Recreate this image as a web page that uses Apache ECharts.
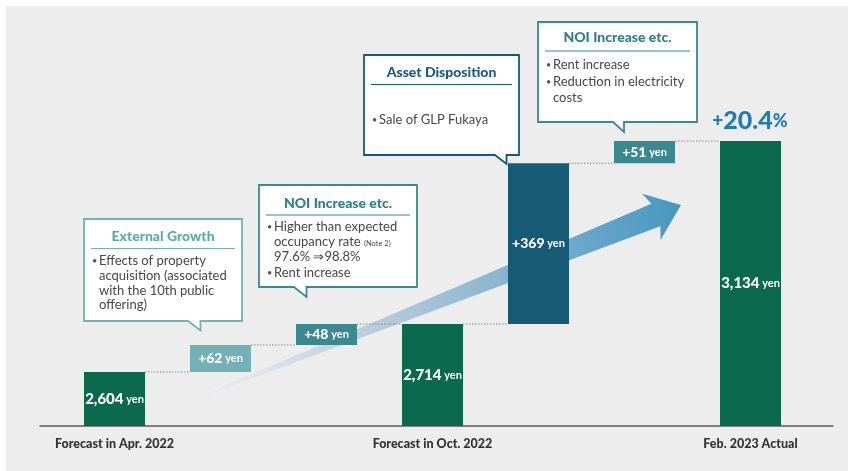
<!DOCTYPE html>
<html>
<head>
<meta charset="utf-8">
<script src="https://cdn.jsdelivr.net/npm/echarts@6/dist/echarts.min.js"></script>
<style>html,body{margin:0;padding:0;background:#fff}#c{width:848px;height:471px}</style>
</head>
<body>
<div id="c"></div>
<script>
// ---- data ----
const categories = ['Forecast in Apr. 2022', '', '', 'Forecast in Oct. 2022', '', '', 'Feb. 2023 Actual'];
const amounts = [2604, 62, 48, 2714, 369, 51, 3134];
const kinds = ['total', 'delta', 'delta', 'total', 'delta', 'delta', 'total'];
const unitLabel = 'yen';
const calloutTitles = ['External Growth', 'NOI Increase etc.', 'Asset Disposition', 'NOI Increase etc.'];
const calloutLines = [
  ['• Effects of property', 'acquisition (associated', 'with the 10th public', 'offering)'],
  ['• Higher than expected', 'occupancy rate {s|(Note 2)}', '97.6% ⇒98.8%', '• Rent increase'],
  ['• Sale of GLP Fukaya'],
  ['• Rent increase', '• Reduction in electricity', 'costs']
];

// ---- styles ----
const FONT = 'Lato, "Open Sans", sans-serif';
const barColors = ['#0b6a4e', '#73b0b7', '#3b8990', '#0b6a4e', '#175a76', '#3b8990', '#0b6a4e'];
const BAR_RATIO = 0.5755;

// ---- derived waterfall ranges ----
const ranges = [];
let run = 0;
amounts.forEach((v, i) => {
  if (kinds[i] === 'total') { ranges.push([i, 0, v]); run = v; }
  else { ranges.push([i, run, run + v]); run += v; }
});
const levels = ranges.slice(0, -1).map(r => [r[0], r[2]]);
const growth = ((amounts[6] - amounts[0]) / amounts[0] * 100).toFixed(1);

// ---- callout layouts ----
const calloutLayout = [
  {x0: 84, y0: 219, x1: 242, y1: 321, tl: 188, tr: 200.5, ty: 330.5, border: '#73b0b7', tc: '#5ea9ae', titleY: 236, sepY: 248.5, lineY: [261, 276, 290.5, 305]},
  {x0: 259, y0: 185, x1: 417, y1: 287, tl: 294, tr: 306.5, ty: 297, border: '#3b8990', tc: '#2e8088', titleY: 203.5, sepY: 215, lineY: [227, 242, 257, 273]},
  {x0: 364, y0: 55, x1: 519, y1: 155, tl: 495, tr: 506.5, ty: 164, border: '#175a76', tc: '#1b5a78', titleY: 72, sepY: 84.5, lineY: [120]},
  {x0: 538, y0: 22, x1: 697, y1: 122, tl: 613, tr: 624, ty: 132, border: '#3b8990', tc: '#2e8088', titleY: 37, sepY: 51, lineY: [65, 82, 98]}
];

function buildCallout(k) {
  const L = calloutLayout[k];
  const els = [];
  els.push({type: 'polygon', z: 10,
    shape: {points: [[L.x0, L.y0], [L.x1, L.y0], [L.x1, L.y1], [L.tr, L.y1], [L.tr, L.ty], [L.tl, L.y1], [L.x0, L.y1]]},
    style: {fill: '#fff', stroke: L.border, lineWidth: 1.8}});
  els.push({type: 'text', z: 11, style: {text: calloutTitles[k], x: (L.x0 + L.x1) / 2, y: L.titleY,
    font: '900 14px ' + FONT, fill: L.tc, align: 'center', verticalAlign: 'middle', textAlign: 'center', textVerticalAlign: 'middle'}});
  els.push({type: 'line', z: 11, shape: {x1: L.x0 + 7, y1: L.sepY, x2: L.x1 - 7, y2: L.sepY}, style: {stroke: L.border, lineWidth: 1.2}});
  calloutLines[k].forEach((ln, j) => {
    const isBullet = ln.startsWith('•');
    const txt = isBullet ? ln.slice(1).trim() : ln;
    if (isBullet) {
      els.push({type: 'text', z: 11, style: {text: '•', x: L.x0 + 8, y: L.lineY[j], font: '9px ' + FONT, fill: '#555',
        align: 'left', verticalAlign: 'middle', textAlign: 'left', textVerticalAlign: 'middle'}});
    }
    els.push({type: 'text', z: 11, style: {text: txt, x: L.x0 + 15, y: L.lineY[j], font: '13px ' + FONT, fill: '#474747',
      align: 'left', verticalAlign: 'middle', textAlign: 'left', textVerticalAlign: 'middle',
      rich: {s: {fontSize: 7.5, fontFamily: FONT, fill: '#474747', color: '#474747', verticalAlign: 'bottom', padding: [0, 0, 1, 0]}}}});
  });
  return els;
}

// ---- arrow geometry (decoration) ----
function buildArrow() {
  const T = [190, 401], P = [681, 205];
  const dx = P[0] - T[0], dy = P[1] - T[1], len = Math.hypot(dx, dy);
  const u = [dx / len, dy / len], n = [-u[1], u[0]];
  const pt = (d, w) => [P[0] - d * u[0] + w * n[0], P[1] - d * u[1] + w * n[1]];
  const pts = [pt(0, 0), pt(32, 25), pt(27, 12), pt(len, 0.6), pt(len, -0.6), pt(27, -12), pt(32, -25)];
  return {type: 'polygon', z: 1, shape: {points: pts},
    style: {fill: new echarts.graphic.LinearGradient(T[0], T[1], P[0], P[1], [
      {offset: 0, color: 'rgba(220,227,235,0)'},
      {offset: 0.15, color: '#dce3eb'},
      {offset: 0.42, color: '#b2c8d9'},
      {offset: 0.76, color: '#70aacb'},
      {offset: 1, color: '#4797c0'}
    ], true)}};
}

const chart = echarts.init(document.getElementById('c'));
const graphics = [
  {type: 'rect', z: 0, shape: {x: 6, y: 6, width: 842, height: 465}, style: {fill: '#ededed'}},
  buildArrow(),
  {type: 'text', z: 11, style: {text: '{p|+}{n|' + growth + '}{s|%}', x: 750, y: 121,
    align: 'center', verticalAlign: 'middle', textAlign: 'center', textVerticalAlign: 'middle',
    rich: {
      p: {fontSize: 19, fontWeight: 900, fontFamily: FONT, fill: '#1e7db0', color: '#1e7db0'},
      n: {fontSize: 25, fontWeight: 900, fontFamily: FONT, fill: '#1e7db0', color: '#1e7db0'},
      s: {fontSize: 18, fontWeight: 900, fontFamily: FONT, fill: '#1e7db0', color: '#1e7db0'}
    }}}
];
for (let k = 0; k < calloutTitles.length; k++) graphics.push(...buildCallout(k));

chart.setOption({
  backgroundColor: '#ffffff',
  animation: false,
  graphic: {elements: graphics},
  grid: [
    {left: 61.5, right: 44.5, top: 60, bottom: 45},
    {left: 40, right: 15, top: 60, bottom: 45}
  ],
  xAxis: [
    {type: 'category', gridIndex: 0, data: categories,
      axisLine: {show: false}, axisTick: {show: false}, splitLine: {show: false},
      axisLabel: {interval: 0, margin: 11, fontFamily: FONT, fontWeight: 900, fontSize: 12.5, color: '#333'}},
    {type: 'value', gridIndex: 1, min: 0, max: 1,
      axisLine: {show: true, onZero: false, lineStyle: {color: '#5c5c5c', width: 1.5}},
      axisTick: {show: false}, axisLabel: {show: false}, splitLine: {show: false}}
  ],
  yAxis: [
    {type: 'value', gridIndex: 0, min: 2480, max: 3320, show: false, splitLine: {show: false}},
    {type: 'value', gridIndex: 1, min: 0, max: 1, show: false, splitLine: {show: false}}
  ],
  series: [
    {
      type: 'custom', name: 'connectors', xAxisIndex: 0, yAxisIndex: 0, z: 3,
      data: levels,
      renderItem: function (params, api) {
        const i = api.value(0), lv = api.value(1);
        const bw = api.size([1, 0])[0] * BAR_RATIO;
        const p1 = api.coord([i, lv]), p2 = api.coord([i + 1, lv]);
        return {type: 'line', shape: {x1: p1[0] + bw / 2, y1: p1[1], x2: p2[0] - bw / 2, y2: p2[1]},
          style: {stroke: '#8c8c8c', lineWidth: 1, lineDash: [1.5, 1.5]}};
      }
    },
    {
      type: 'custom', name: 'bars', xAxisIndex: 0, yAxisIndex: 0, z: 4,
      encode: {x: 0, y: [1, 2]},
      data: ranges,
      renderItem: function (params, api) {
        const i = api.value(0), lo = api.value(1), hi = api.value(2);
        const bw = api.size([1, 0])[0] * BAR_RATIO;
        const pLo = api.coord([i, lo]), pHi = api.coord([i, hi]);
        const cs = params.coordSys;
        const rect = echarts.graphic.clipRectByRect(
          {x: pLo[0] - bw / 2, y: pHi[1], width: bw, height: pLo[1] - pHi[1]},
          {x: cs.x, y: cs.y, width: cs.width, height: cs.height});
        if (!rect) return;
        const isTotal = kinds[i] === 'total';
        const num = isTotal ? amounts[i].toLocaleString('en-US') : '+' + amounts[i];
        return {
          type: 'rect', shape: rect, style: {fill: barColors[i]},
          textContent: {style: {
            text: '{n|' + num + '}{u| ' + unitLabel + '}', fill: '#fff',
            rich: {
              n: {fontFamily: FONT, fontWeight: 900, fontSize: isTotal ? 15 : 14, fill: '#fff', color: '#fff'},
              u: {fontFamily: FONT, fontWeight: 'bold', fontSize: 11, fill: '#fff', color: '#fff'}
            }}},
          textConfig: {position: 'inside'}
        };
      }
    }
  ]
});
</script>
</body>
</html>
